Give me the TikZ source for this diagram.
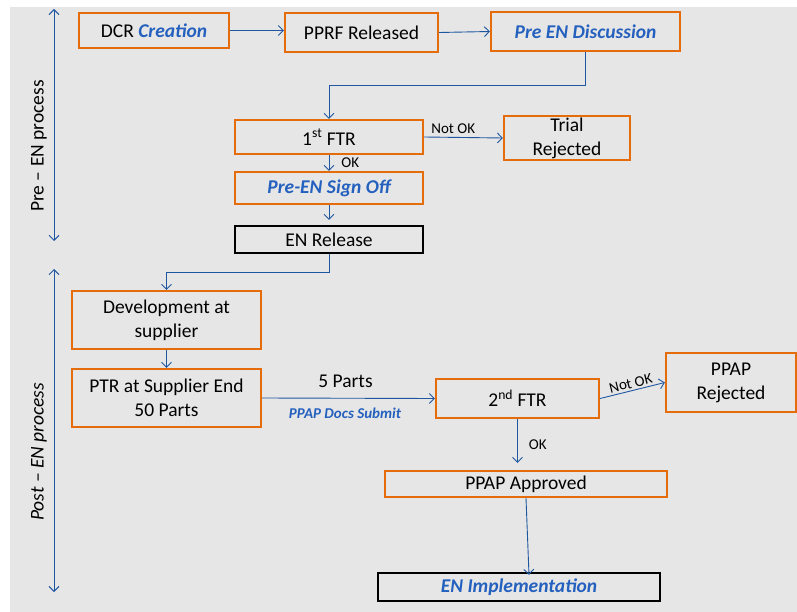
\documentclass[tikz,border=0pt]{standalone}
\usepackage{fontspec}
\setmainfont{Carlito}
\usetikzlibrary{arrows.meta}
\definecolor{bggrey}{RGB}{230,230,230}
\definecolor{boxorange}{RGB}{228,108,10}
\definecolor{lineblue}{RGB}{31,86,160}
\definecolor{textblue}{RGB}{36,96,190}
\newcommand{\mainsize}{\fontsize{19.5bp}{24bp}\selectfont}
\newcommand{\labsize}{\fontsize{15bp}{18bp}\selectfont}
\newcommand{\bluebi}[1]{\textcolor{textblue}{\bfseries\itshape #1}}
\begin{document}
\begin{tikzpicture}[x=1bp,y=-1bp,
  obox/.style={draw=boxorange, line width=2.2bp, rectangle, inner sep=0pt, align=center, font=\mainsize},
  kbox/.style={draw=black, line width=2.2bp, rectangle, inner sep=0pt, align=center, font=\mainsize},
  flow/.style={draw=lineblue, line width=0.9bp, -{Straight Barb[length=5bp,width=10bp]}},
  span/.style={draw=lineblue, line width=1bp, {Straight Barb[length=5bp,width=10bp]}-{Straight Barb[length=5bp,width=10bp]}},
  lab/.style={font=\labsize, text=black, inner sep=1bp},
  side/.style={font=\mainsize, rotate=90, inner sep=0pt}
]
\useasboundingbox (0,0) rectangle (797,612);
\fill[white] (0,0) rectangle (797,612);
\fill[bggrey] (10,7) rectangle (797,612);

% left spans
\coordinate (preA) at (54,9);
\coordinate (preB) at (54,241);
\coordinate (postA) at (54,269);
\coordinate (postB) at (54,592);
\draw[span] (preA) -- (preB);
\draw[span] (postA) -- (postB);
\node[side] (prelab) at (39,146) {Pre – EN process};
\node[side] (postlab) at (39,452) {\itshape Post – EN process};

% boxes
\node[obox, minimum width=150bp, minimum height=35bp] (dcr) at (154,30.5) {DCR \bluebi{Creation}};
\node[obox, minimum width=153bp, minimum height=39bp] (pprf) at (361.5,32.5) {PPRF Released};
\node[obox, minimum width=189bp, minimum height=39bp] (pren) at (585.5,31.5) {\bluebi{Pre EN Discussion}};
\node[obox, minimum width=188bp, minimum height=34bp] (ftr1) at (329,137) {1\textsuperscript{st} FTR};
\node[obox, minimum width=126bp, minimum height=44bp] (trial) at (567,138) {Trial\\Rejected};
\node[obox, minimum width=188bp, minimum height=32bp] (signoff) at (329,188) {\bluebi{Pre-EN Sign Off}};
\node[kbox, minimum width=188bp, minimum height=27bp] (enrel) at (329,239.5) {EN Release};
\node[obox, minimum width=189bp, minimum height=58bp] (dev) at (166.5,320) {Development at\\supplier};
\node[obox, minimum width=189bp, minimum height=58bp] (ptr) at (166.5,398) {PTR at Supplier End\\50 Parts};
\node[obox, minimum width=163bp, minimum height=39bp] (ftr2) at (517.5,398.5) {2\textsuperscript{nd} FTR};
\node[obox, minimum width=130bp, minimum height=59bp] (ppaprej) at (731,382.5) {PPAP\\Rejected};
\node[obox, minimum width=282bp, minimum height=26bp] (ppapapp) at (526,484) {PPAP Approved};
\node[kbox, minimum width=282bp, minimum height=28bp] (enimp) at (519,587) {\bluebi{EN Implementation}};

% connectors
\draw[flow] (dcr.east) -- (dcr.east -| pprf.west);
\draw[flow] (pprf.east) -- (pren.west);
\coordinate (bend1) at (585.5,85);
\draw[flow] (pren.south) -- (bend1) -| (ftr1.north);
\draw[flow] (ftr1.east) -- node[lab, pos=0.37, above=2bp] (nok1) {Not OK} (trial.west);
\draw[flow] (ftr1.south) -- node[lab, right=11bp] (ok1) {OK} (signoff.north);
\draw[flow] (signoff.south) -- ([yshift=5bp]enrel.north);
\coordinate (bend2) at (329,272);
\draw[flow] (enrel.south) -- (bend2) -| (dev.north);
\draw[flow] (dev.south) -- (ptr.north);
\draw[flow] (ptr.east) -- (ftr2.west);
\node[font=\mainsize, inner sep=0pt] (fiveparts) at (345.5,381) {5 Parts};
\node[font=\fontsize{15bp}{18bp}\selectfont, inner sep=0pt] (docs) at (345,413) {\bluebi{PPAP Docs Submit}};
\draw[flow] (ftr2.east) -- node[lab, sloped, above=1bp, pos=0.5] (nok2) {Not OK} (ppaprej.west);
\draw[flow, shorten >=7bp] (ftr2.south) -- node[lab, pos=0.5, right=10bp] (ok2) {OK} (ftr2.south |- ppapapp.north);
\draw[flow] (ppapapp.south) -- ([xshift=10bp,yshift=-3bp]enimp.north);
\end{tikzpicture}
\end{document}
